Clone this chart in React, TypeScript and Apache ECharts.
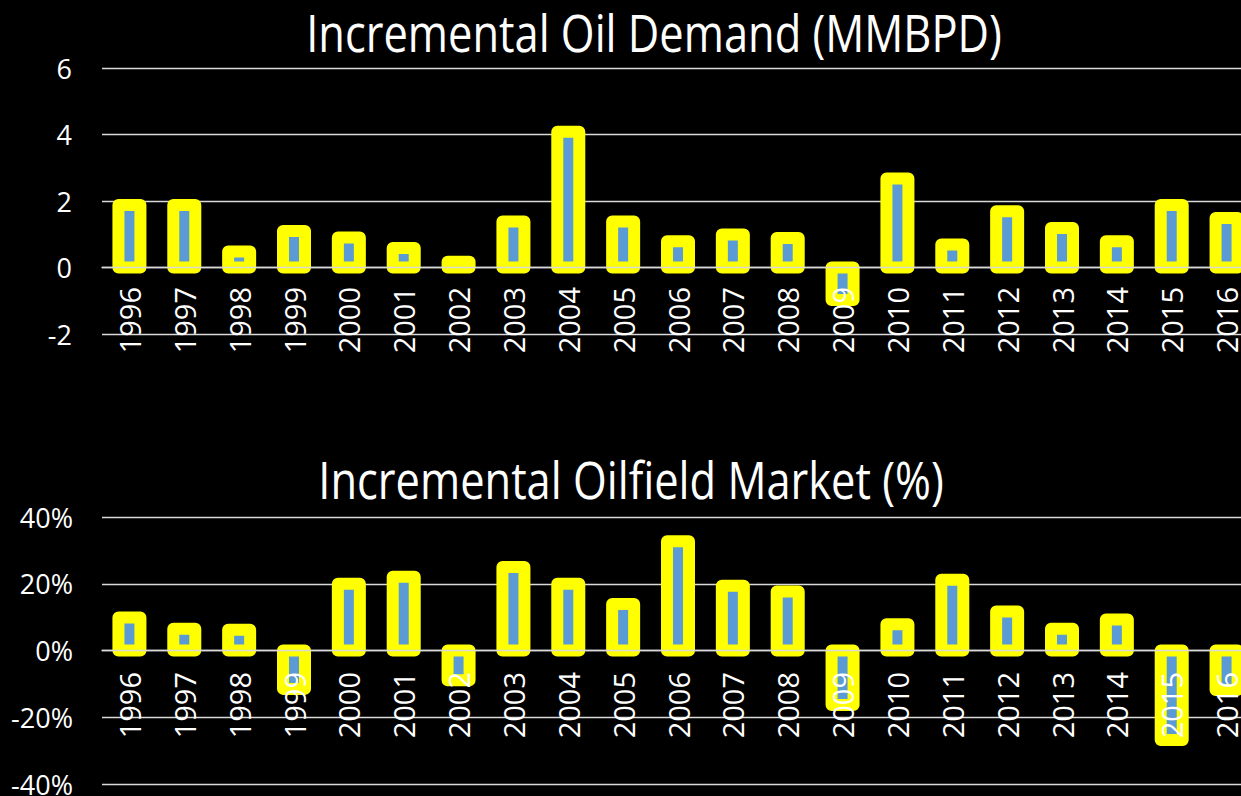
import React, { useEffect, useRef } from "react";
import * as echarts from "echarts";

const years = ["1996", "1997", "1998", "1999", "2000", "2001", "2002", "2003", "2004", "2005", "2006", "2007", "2008", "2009", "2010", "2011", "2012", "2013", "2014", "2015", "2016"];
const oilDemand = [1.88, 1.88, 0.48, 1.10, 0.90, 0.59, 0.17, 1.38, 4.08, 1.38, 0.79, 0.99, 0.89, -0.98, 2.68, 0.69, 1.69, 1.19, 0.79, 1.88, 1.49];
const oilfieldMarket = [9.9, 6.5, 6.2, -11.5, 20.0, 22.1, -8.9, 25.0, 20.0, 13.9, 32.7, 19.4, 17.7, -16.3, 7.9, 21.2, 11.7, 6.5, 9.3, -26.8, -11.8];
const title1 = "Incremental Oil Demand (MMBPD)";
const title2 = "Incremental Oilfield Market (%)";

const FONT = "'Open Sans', 'Noto Sans', sans-serif";

const BAR_W = 22;

function renderBar(params: any, api: any) {
  const idx = api.value(0);
  const val = api.value(1);
  const p0 = api.coord([idx, 0]);
  const p1 = api.coord([idx, val]);
  return {
    type: "rect",
    shape: {
      x: p0[0] - BAR_W / 2,
      y: Math.min(p0[1], p1[1]),
      width: BAR_W,
      height: Math.abs(p1[1] - p0[1]),
    },
    style: {
      fill: "#5B9BD5",
      stroke: "#FFFF00",
      lineWidth: 12,
      lineJoin: "round",
    },
  };
}

export default function App() {
  const ref = useRef<HTMLDivElement>(null);
  useEffect(() => {
    if (!ref.current) return;
    const chart = echarts.init(ref.current, undefined, { renderer: "svg" });
    const xAxisBase = {
      type: "category" as const,
      data: years,
      z: 5,
      axisLine: { show: true, onZero: true, lineStyle: { color: "#D9D9D9", width: 1.3 } },
      axisTick: { show: false },
      axisLabel: {
        rotate: 90,
        interval: 0,
        color: "#FFFFFF",
        fontSize: 29,
        fontFamily: FONT,
        margin: -47,
        hideOverlap: false,
      },
    };
    const splitLine = { show: true, lineStyle: { color: "#D9D9D9", width: 1.3 } };
    chart.setOption({
      animation: false,
      backgroundColor: "#000000",
      graphic: [
        {
          type: "text",
          x: 654,
          y: 32,
          scaleX: 0.835,
          style: {
            text: title1,
            fill: "#FFFFFF",
            fontSize: 52,
            fontFamily: FONT,
            align: "center",
            verticalAlign: "middle",
          },
        },
        {
          type: "text",
          x: 631,
          y: 479,
          scaleX: 0.835,
          style: {
            text: title2,
            fill: "#FFFFFF",
            fontSize: 52,
            fontFamily: FONT,
            align: "center",
            verticalAlign: "middle",
          },
        },
      ],
      grid: [
        { left: 102, right: -13, top: 68, height: 266, outerBoundsMode: "none" },
        { left: 102, right: -13, top: 517, height: 267, outerBoundsMode: "none" },
      ],
      xAxis: [
        { ...xAxisBase, gridIndex: 0 },
        { ...xAxisBase, gridIndex: 1, axisLabel: { ...xAxisBase.axisLabel, margin: -112 } },
      ],
      yAxis: [
        {
          type: "value",
          gridIndex: 0,
          min: -2,
          max: 6,
          interval: 2,
          axisLine: { show: false },
          axisTick: { show: false },
          splitLine,
          axisLabel: { color: "#FFFFFF", fontSize: 27, fontFamily: FONT, margin: 30 },
        },
        {
          type: "value",
          gridIndex: 1,
          min: -40,
          max: 40,
          interval: 20,
          axisLine: { show: false },
          axisTick: { show: false },
          splitLine,
          axisLabel: { color: "#FFFFFF", fontSize: 27, fontFamily: FONT, margin: 29, formatter: "{value}%" },
        },
      ],
      series: [
        {
          type: "custom",
          xAxisIndex: 0,
          yAxisIndex: 0,
          data: oilDemand.map((v, i) => [i, v]),
          encode: { x: 0, y: 1 },
          renderItem: renderBar,
        },
        {
          type: "custom",
          xAxisIndex: 1,
          yAxisIndex: 1,
          data: oilfieldMarket.map((v, i) => [i, v]),
          encode: { x: 0, y: 1 },
          renderItem: renderBar,
        },
      ],
    });
    return () => chart.dispose();
  }, []);
  return (
    <div
      ref={ref}
      style={{ position: "absolute", left: 0, top: 0, width: 1241, height: 796 }}
    />
  );
}
